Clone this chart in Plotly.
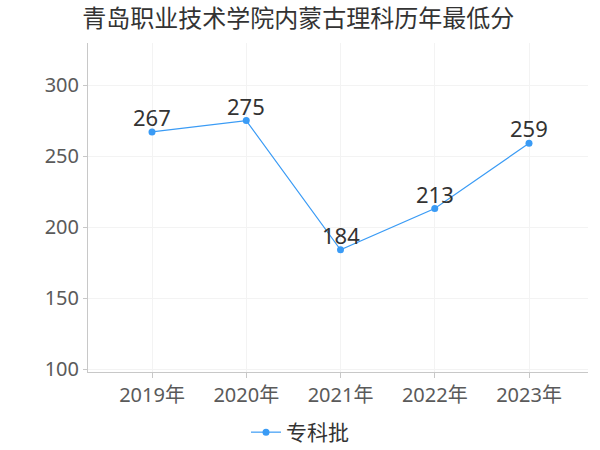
import plotly.graph_objects as go

years = ["2019年", "2020年", "2021年", "2022年", "2023年"]
scores = [267, 275, 184, 213, 259]
series_name = "专科批"
title_text = "青岛职业技术学院内蒙古理科历年最低分"

FONT = "Noto Sans, Noto Sans CJK SC"
CJK = "Noto Sans CJK SC"
BLUE = "#3a9bf5"

fig = go.Figure()
fig.add_trace(go.Scatter(
    x=years, y=scores, name=series_name,
    mode="lines+markers",
    line=dict(color=BLUE, width=1.2),
    marker=dict(color=BLUE, size=7),
    cliponaxis=False,
))

for yr, v in zip(years, scores):
    fig.add_annotation(
        x=yr, y=v, text=str(v), showarrow=False,
        xanchor="center", yanchor="middle", yshift=15,
        font=dict(family=FONT, size=22, color="#333333"),
    )

fig.update_layout(
    width=600, height=450,
    margin=dict(l=88, r=12, t=43, b=78, autoexpand=False),
    paper_bgcolor="white", plot_bgcolor="white",
    title=dict(text=title_text, x=0.497, xanchor="center", y=1 - 19 / 450,
               yanchor="middle", yref="container", xref="container",
               font=dict(family=CJK, size=24, color="#333333")),
    showlegend=True,
    legend=dict(orientation="h", x=0.5, xanchor="center", xref="container",
                y=1 - 412 / 450, yanchor="top", yref="container",
                font=dict(family=CJK, size=21, color="#333333"),
                itemwidth=30),
    font=dict(family=FONT),
)
fig.update_xaxes(
    type="category", range=[-0.679, 4.626], automargin=False,
    showline=True, linecolor="#c8c8c8", linewidth=1,
    ticks="outside", ticklen=5, tickcolor="#c8c8c8",
    showgrid=True, gridcolor="#f3f3f3",
    tickfont=dict(family=FONT, size=20, color="#5a5a5a"),
    zeroline=False,
)
fig.update_yaxes(
    range=[97.9, 329.6], automargin=False,
    tickvals=[100, 150, 200, 250, 300],
    showline=True, linecolor="#c8c8c8", linewidth=1,
    ticks="outside", ticklen=4, tickcolor="#c8c8c8",
    showgrid=True, gridcolor="#f3f3f3",
    tickfont=dict(family=FONT, size=20, color="#5a5a5a"),
    zeroline=False,
)

fig.write_html("out.html", config={"displayModeBar": False},
               post_script="document.body.style.margin='0';")
